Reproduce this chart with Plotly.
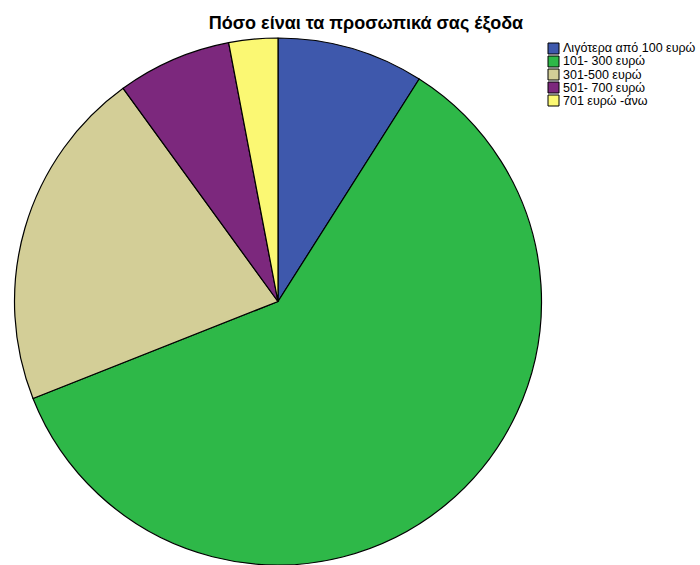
import plotly.graph_objects as go

# Monthly personal spending categories and their shares
categories = [
    "Λιγότερα από 100 ευρώ",
    "101- 300 ευρώ",
    "301-500 ευρώ",
    "501- 700 ευρώ",
    "701 ευρώ -άνω",
]
shares = [9, 60, 21, 7, 3]
colors = ["#3E58AC", "#2EB848", "#D3CE97", "#7C287D", "#FBF873"]

W, H = 700, 565
cx, top = 278, 38
side = H - top  # pie fills the full height below the title band

fig = go.Figure(
    go.Pie(
        labels=categories,
        values=shares,
        sort=False,
        direction="clockwise",
        rotation=0,
        textinfo="none",
        hoverinfo="label+percent",
        showlegend=False,
        marker=dict(colors=colors, line=dict(color="black", width=1.2)),
        domain=dict(x=[(cx - side / 2) / W, (cx + side / 2) / W], y=[0, side / H]),
    )
)

# Compact legend: small outlined swatches with labels, 13 px apart
shapes, annotations = [], []
lx, ly, box, pitch = 548, 43, 11, 13
for i, (lab, col) in enumerate(zip(categories, colors)):
    y0 = ly + i * pitch
    shapes.append(dict(
        type="rect", xref="paper", yref="paper",
        x0=lx / W, x1=(lx + box) / W,
        y0=1 - y0 / H, y1=1 - (y0 + box) / H,
        fillcolor=col, line=dict(color="black", width=1),
    ))
    annotations.append(dict(
        text=lab, xref="paper", yref="paper",
        x=(lx + box + 2) / W, xanchor="left",
        y=1 - (y0 + box / 2) / H, yanchor="middle",
        showarrow=False, font=dict(size=12.5, color="black"),
    ))

fig.update_layout(
    width=W,
    height=H,
    margin=dict(l=0, r=0, t=0, b=0),
    paper_bgcolor="white",
    plot_bgcolor="white",
    font=dict(family="Liberation Sans, Arial, sans-serif", color="black"),
    title=dict(
        text="<b>Πόσο είναι τα προσωπικά σας έξοδα</b>",
        x=366 / W,
        xanchor="center",
        xref="container",
        y=1 - 23 / H,
        yanchor="middle",
        yref="container",
        font=dict(size=18, color="black"),
    ),
    shapes=shapes,
    annotations=annotations,
)

fig.write_html("out.html")
